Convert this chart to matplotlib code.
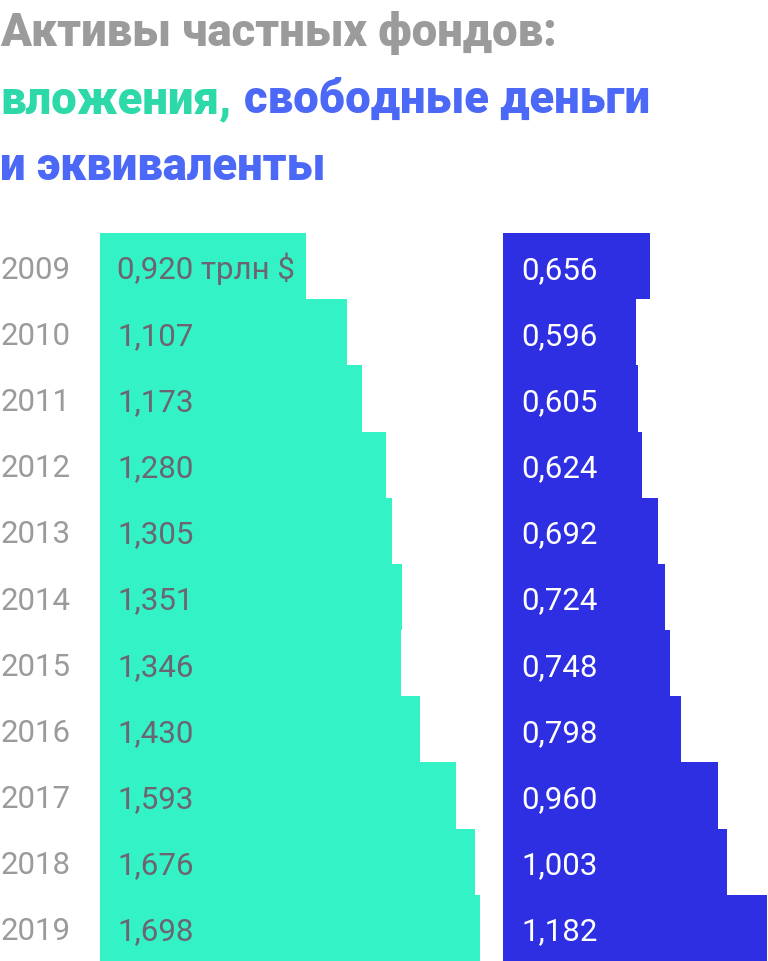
import matplotlib
matplotlib.use("Agg")
import matplotlib.pyplot as plt
from matplotlib.transforms import blended_transform_factory

years = ["2009", "2010", "2011", "2012", "2013", "2014", "2015", "2016", "2017", "2018", "2019"]
investments = [0.920, 1.107, 1.173, 1.280, 1.305, 1.351, 1.346, 1.430, 1.593, 1.676, 1.698]
cash = [0.656, 0.596, 0.605, 0.624, 0.692, 0.724, 0.748, 0.798, 0.960, 1.003, 1.182]
unit_first = " трлн $"

title1 = "Активы частных фондов:"
title2a = "вложения,"
title2b = "свободные деньги"
title3 = "и эквиваленты"

W, H = 768, 961
PX_PER_UNIT = 223.5
GREEN = "#33F2C5"
BLUE = "#2E2EE2"
T_GREEN = "#2DD9A8"
T_BLUE = "#4C68F6"
GRAY = "#9B9B9B"
VAL_GRAY = "#6C6470"

plt.rcParams['font.family'] = ['Roboto', 'DejaVu Sans']

fig = plt.figure(figsize=(W / 100, H / 100), dpi=100)
fig.patch.set_facecolor("white")

def fx(px):
    return px / W

def fy(py):
    return 1 - py / H

# Title
TS = 32.8
TW = 900
fig.text(fx(0), fy(46), title1, fontsize=TS, fontweight=TW, color=GRAY, va='baseline', ha='left')
t2a = fig.text(fx(0), fy(113), title2a, fontsize=TS, fontweight=TW, color=T_GREEN, va='baseline', ha='left')
fig.canvas.draw()
r = fig.canvas.get_renderer()
bb = t2a.get_window_extent(renderer=r)
fig.text(bb.x1 / W + fx(13), fy(113), title2b, fontsize=TS, fontweight=TW, color=T_BLUE, va='baseline', ha='left')
fig.text(fx(0), fy(180), title3, fontsize=TS, fontweight=TW, color=T_BLUE, va='baseline', ha='left')

# Bars
top_px = 233
n = len(years)
bottom_frac = 0
height_frac = (H - top_px) / H

ax1 = fig.add_axes([fx(100), bottom_frac, fx(W - 100), height_frac])
ax1.set_xlim(0, (W - 100) / PX_PER_UNIT)
ax2 = fig.add_axes([fx(503), bottom_frac, fx(W - 503), height_frac])
ax2.set_xlim(0, (W - 503) / PX_PER_UNIT)

ypos = list(range(n))
for ax, vals, col in ((ax1, investments, GREEN), (ax2, cash, BLUE)):
    ax.barh(ypos, vals, height=1.0, color=col, linewidth=0, antialiased=False)
    ax.set_ylim(n - 0.5, -0.5)
    ax.axis('off')
    ax.patch.set_alpha(0)

FS = 22.5
BASE_OFF = 0.19
trans_year = blended_transform_factory(fig.transFigure, ax1.transData)
for i, y in enumerate(years):
    ax1.text(fx(1), i + BASE_OFF, y, transform=trans_year, fontsize=FS, color=GRAY, va='baseline', ha='left')

def fmt(v):
    return f"{v:.3f}".replace(".", ",")

off = 17 / PX_PER_UNIT
for i, v in enumerate(investments):
    s = fmt(v) + (unit_first if i == 0 else "")
    ax1.text(off, i + BASE_OFF, s, fontsize=FS, color=VAL_GRAY, va='baseline', ha='left')
for i, v in enumerate(cash):
    ax2.text(18 / PX_PER_UNIT, i + BASE_OFF, fmt(v), fontsize=FS, color='white', va='baseline', ha='left')

fig.savefig("out.png", dpi=100)
